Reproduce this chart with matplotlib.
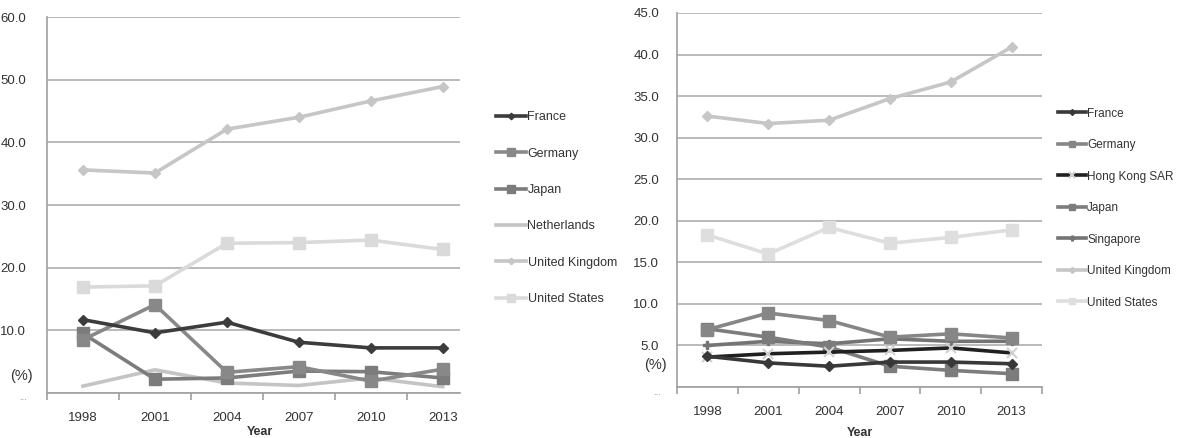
import matplotlib
matplotlib.use("Agg")
import matplotlib.pyplot as plt

plt.rcParams['font.family'] = ['Liberation Sans Narrow', 'Liberation Sans', 'DejaVu Sans']

years = ['1998', '2001', '2004', '2007', '2010', '2013']

# --- left panel ---
left_names = ['France', 'Germany', 'Japan', 'Netherlands', 'United Kingdom', 'United States']
left_france = [11.7, 9.6, 11.3, 8.1, 7.2, 7.2]
left_germany = [8.5, 14.1, 3.3, 4.2, 1.9, 3.8]
left_japan = [9.5, 2.2, 2.4, 3.5, 3.4, 2.4]
left_netherlands = [1.1, 3.7, 1.6, 1.2, 2.4, 1.0]
left_uk = [35.6, 35.1, 42.1, 44.0, 46.6, 48.9]
left_us = [16.9, 17.1, 23.9, 24.0, 24.4, 22.9]
left_ticks = [0, 10, 20, 30, 40, 50, 60]

# --- right panel ---
right_names = ['France', 'Germany', 'Hong Kong SAR', 'Japan', 'Singapore',
               'United Kingdom', 'United States']
right_france = [3.7, 2.9, 2.5, 3.0, 3.0, 2.8]
right_germany = [6.9, 8.9, 8.0, 6.0, 6.4, 5.9]
right_hongkong = [3.6, 4.0, 4.2, 4.4, 4.7, 4.1]
right_japan = [7.0, 6.0, 4.8, 2.5, 2.0, 1.6]
right_singapore = [5.0, 5.5, 5.2, 5.8, 5.5, 5.5]
right_uk = [32.6, 31.7, 32.1, 34.7, 36.7, 40.9]
right_us = [18.3, 16.0, 19.2, 17.3, 18.0, 18.9]
right_ticks = [0, 5, 10, 15, 20, 25, 30, 35, 40, 45]

TXT = '#333333'
GRID = '#b4b4b4'

fig = plt.figure(figsize=(11.91, 4.38), dpi=100)
ax1 = fig.add_axes([47 / 1191, 1 - 393 / 438, 413 / 1191, 376 / 438])
ax2 = fig.add_axes([677 / 1191, 1 - 387 / 438, 365 / 1191, 374 / 438])


def style(ax, ticks, ymax, pad, xpad, xlab):
    ax.set_ylim(0, ymax)
    ax.set_yticks(ticks)
    ax.set_yticklabels([''] + [f'{t:.1f}' for t in ticks[1:]])
    ax.yaxis.grid(True, color=GRID, linewidth=1.3)
    ax.set_axisbelow(True)
    for s in ['top', 'right']:
        ax.spines[s].set_visible(False)
    for s in ['left', 'bottom']:
        ax.spines[s].set_color('#a0a0a0')
        ax.spines[s].set_linewidth(1.2)
    ax.tick_params(axis='y', length=0, pad=pad, labelsize=9.5, labelcolor=TXT)
    x = list(range(len(years)))
    ax.set_xticks(x)
    ax.set_xticklabels(years)
    ax.set_xticks([i - 0.5 for i in range(len(years) + 1)], minor=True)
    ax.tick_params(axis='x', which='major', length=0, pad=xpad, labelsize=9.5, labelcolor=TXT)
    ax.tick_params(axis='x', which='minor', length=5, color='#a0a0a0', width=1.2)
    # "(%)" unit marker and the truncated zero label
    ax.text(xlab, 2.7, '(%)', transform=ax.get_yaxis_transform(), ha='center',
            va='center', fontsize=10.5, color=TXT)
    ax.text(xlab + 0.005, -0.6, '...', transform=ax.get_yaxis_transform(), ha='center',
            va='center', fontsize=7, color='#888888')


x = list(range(len(years)))

# left chart
ax1.plot(x, left_netherlands, color='#c4c4c4', lw=2.6, label='Netherlands', zorder=2)
ax1.plot(x, left_us, color='#dadada', lw=2.6, marker='s', ms=9, label='United States', zorder=2)
ax1.plot(x, left_uk, color='#c6c6c6', lw=2.6, marker='D', ms=5.5, label='United Kingdom', zorder=2)
ax1.plot(x, left_japan, color='#7c7c7c', lw=2.6, marker='s', ms=9, label='Japan', zorder=3)
ax1.plot(x, left_germany, color='#888888', lw=2.6, marker='s', ms=9, label='Germany', zorder=3)
ax1.plot(x, left_france, color='#3c3c3c', lw=2.6, marker='D', ms=5.5, label='France', zorder=4)
style(ax1, left_ticks, 60, 15, 14, -0.063)
ax1.set_xlim(-0.5, 5.24)

h1, l1 = ax1.get_legend_handles_labels()
order1 = [l1.index(n) for n in left_names]
fig.legend([h1[i] for i in order1], [l1[i] for i in order1],
           loc='upper left', bbox_to_anchor=(485 / 1191, 1 - 100 / 438),
           frameon=False, fontsize=9, labelspacing=1.95, handlelength=2.4,
           handletextpad=0.1, markerscale=0.6, labelcolor=TXT)

# right chart
ax2.plot(x, right_us, color='#dedede', lw=2.6, marker='s', ms=8, label='United States', zorder=2)
ax2.plot(x, right_uk, color='#c6c6c6', lw=2.6, marker='D', ms=5, label='United Kingdom', zorder=2)
ax2.plot(x, right_singapore, color='#747474', lw=2.6, marker='P', ms=6, label='Singapore', zorder=3)
ax2.plot(x, right_japan, color='#7c7c7c', lw=2.6, marker='s', ms=8, label='Japan', zorder=3)
ax2.plot(x, right_germany, color='#868686', lw=2.6, marker='s', ms=8, label='Germany', zorder=3)
ax2.plot(x, right_hongkong, color='#202020', lw=2.6, marker='x', ms=7, mew=1.5,
         mec='#d0d0d0', label='Hong Kong SAR', zorder=4)
ax2.plot(x, right_france, color='#383838', lw=2.6, marker='D', ms=5, label='France', zorder=4)
style(ax2, right_ticks, 45, 13, 14, -0.06)
ax2.set_xlim(-0.5, 5.5)
ax2.set_xlabel('Year', fontsize=9, fontweight='bold', color=TXT, labelpad=6)

h2, l2 = ax2.get_legend_handles_labels()
order2 = [l2.index(n) for n in right_names]
fig.legend([h2[i] for i in order2], [l2[i] for i in order2],
           loc='upper left', bbox_to_anchor=(1047 / 1191, 1 - 97 / 438),
           frameon=False, fontsize=8.5, labelspacing=1.65, handlelength=2.4,
           handletextpad=0.1, markerscale=0.6, labelcolor=TXT)

# axis title under the left panel (sits on the bottom edge, as in the source)
fig.text(260 / 1191, 0.0, 'Year', ha='center', va='bottom', fontsize=9,
         fontweight='bold', color=TXT)

fig.savefig('out.png', dpi=100)
